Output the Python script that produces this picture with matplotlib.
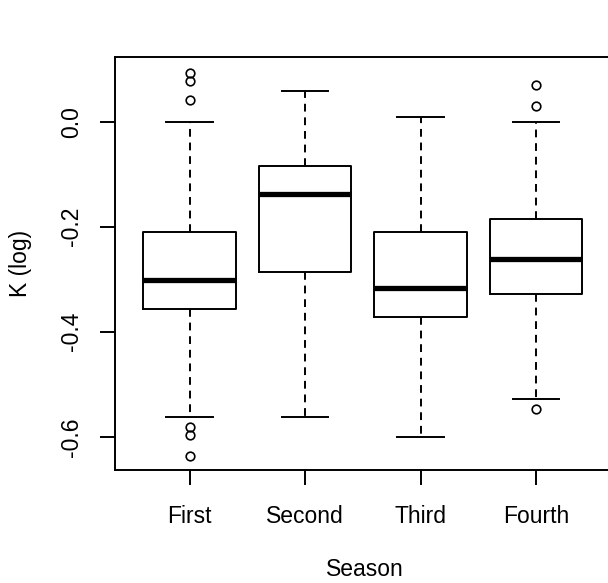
import matplotlib
matplotlib.use("Agg")
import matplotlib.pyplot as plt

plt.rcParams["font.family"] = ["Liberation Sans", "DejaVu Sans"]

# values
seasons = ["First", "Second", "Third", "Fourth"]
q1 = [-0.356, -0.286, -0.371, -0.328]
med = [-0.302, -0.138, -0.317, -0.262]
q3 = [-0.211, -0.084, -0.211, -0.186]
whislo = [-0.563, -0.563, -0.600, -0.527]
whishi = [0.000, 0.058, 0.009, 0.000]
fliers = [
    [0.092, 0.078, 0.041, -0.582, -0.597, -0.637],
    [],
    [],
    [0.070, 0.029, -0.546],
]
yticks = [0.0, -0.2, -0.4, -0.6]
ytick_labels = ["0.0", "-0.2", "-0.4", "-0.6"]

stats = []
for i in range(len(seasons)):
    stats.append({"label": seasons[i], "q1": q1[i], "med": med[i], "q3": q3[i],
                  "whislo": whislo[i], "whishi": whishi[i], "fliers": fliers[i]})

fig = plt.figure(figsize=(6.08, 5.83), dpi=100)
# right edge of the frame falls just outside the picture, like the reference
ax = fig.add_axes([115 / 608, 113 / 583, 499 / 608, 413 / 583])

lw = 1.4
ax.bxp(stats, positions=range(1, 5), widths=0.8, capwidths=0.4,
       boxprops=dict(color="black", linewidth=lw),
       medianprops=dict(color="black", linewidth=3.8, solid_capstyle="butt"),
       whiskerprops=dict(color="black", linewidth=lw, linestyle=(0, (4, 3))),
       capprops=dict(color="black", linewidth=lw),
       flierprops=dict(marker="o", markersize=6.2, markerfacecolor="none",
                       markeredgecolor="black", markeredgewidth=1.2))

ax.set_xlim(0.355, 4.675)
ax.set_ylim(-0.663, 0.123)
ax.set_yticks(yticks)
ax.set_yticklabels(ytick_labels, rotation=90, va="center")
ax.set_xticks(range(1, 5))
ax.set_xticklabels(seasons)

for s in ax.spines.values():
    s.set_linewidth(1.4)
ax.tick_params(axis="both", length=11, width=1.4, labelsize=16.5)
ax.tick_params(axis="x", pad=14)
ax.tick_params(axis="y", pad=12)

ax.set_xlabel("Season", fontsize=16.5, labelpad=22)
ax.set_ylabel("K (log)", fontsize=16.5, labelpad=20)

fig.savefig("out.png", dpi=100)
